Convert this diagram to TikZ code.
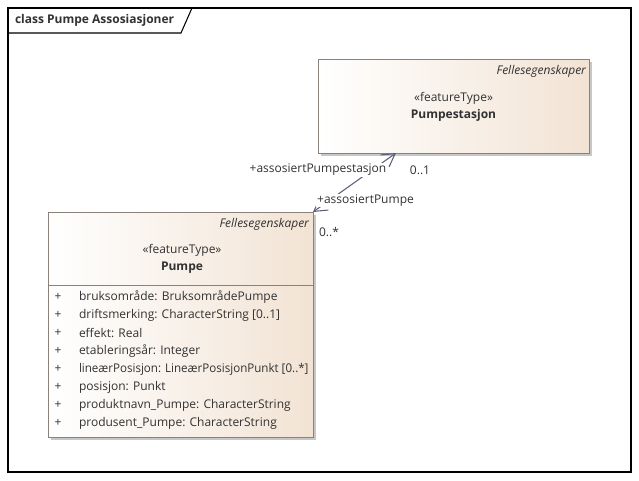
\documentclass[tikz,border=0pt]{standalone}
\usepackage{fontspec}
\setmainfont{Open Sans}
\usetikzlibrary{arrows.meta,shadows,calc}
\definecolor{boxline}{RGB}{140,128,122}
\definecolor{boxtint}{RGB}{242,227,212}
\definecolor{ink}{RGB}{50,50,50}
\definecolor{assoc}{RGB}{92,96,122}
\begin{document}
\fontsize{9}{11}\selectfont
\begin{tikzpicture}[x=0.75pt,y=-0.75pt,
  every node/.style={text=ink, inner sep=0pt, outer sep=0pt},
  classbox/.style={draw=boxline, line width=0.75pt, left color=white, right color=boxtint,
    anchor=north west,
    drop shadow={shadow xshift=2.6pt, shadow yshift=-2.6pt, fill=black!22, opacity=1}},
  rolelabel/.style={fill=white, inner sep=0.6pt},
  barb/.tip={Straight Barb[length=9.5pt,width=11pt]},
  assocline/.style={draw=assoc, line width=0.8pt, barb-barb}]

  % page background and size
  \fill[white] (0,0) rectangle (639,480);
  \useasboundingbox (0,0) rectangle (639,480);

  % diagram frame with its name tab
  \draw[line width=1.1pt] (8,8) rectangle (631,472);
  \draw[line width=0.8pt] (8,33) -- (181,33) -- (192,8);
  \node[anchor=west, font=\bfseries] (title) at (15,20.5) {class Pumpe Assosiasjoner};

  % class Pumpestasjon
  \node[classbox, minimum width=203.25pt, minimum height=70.5pt] (stasjon) at (318,59) {};
  \node[anchor=east, font=\itshape] (stasjon-pkg) at (586,71) {Fellesegenskaper};
  \node (stasjon-st) at (453.5,98) {«featureType»};
  \node[font=\bfseries] (stasjon-name) at (453.5,115) {Pumpestasjon};

  % class Pumpe
  \node[classbox, minimum width=198.75pt, minimum height=168.75pt] (pumpe) at (48,212) {};
  \node[anchor=east, font=\itshape] (pumpe-pkg) at (309,224) {Fellesegenskaper};
  \node (pumpe-st) at (182,250) {«featureType»};
  \node[font=\bfseries] (pumpe-name) at (182,268) {Pumpe};
  \draw[boxline, line width=0.75pt] (pumpe.west |- 0,285) -- (pumpe.east |- 0,285);

  % attributes; the long one is narrowed a little to stay inside the box
  \foreach \attr [count=\i] in {
      bruksområde: BruksområdePumpe,
      driftsmerking: CharacterString [0..1],
      effekt: Real,
      etableringsår: Integer,
      {\scalebox{0.965}[1]{lineærPosisjon: LineærPosisjonPunkt [0..*]}},
      posisjon: Punkt,
      produktnavn\_Pumpe: CharacterString,
      produsent\_Pumpe: CharacterString} {
    \node (plus-\i) at (58,279+18*\i) {+};
    \node[anchor=west] (attr-\i) at (79,279+18*\i) {\attr};
  }

  % association between the two classes
  \coordinate (stasjon-end) at ($(stasjon.south west)+(78,0)$);
  \draw[assocline] (pumpe.north east) -- (stasjon-end);
  \node[rolelabel] (role-stasjon) at (318,170) {+assosiertPumpestasjon};
  \node (mult-stasjon) at (420,170) {0..1};
  \node[rolelabel] (role-pumpe) at (365.5,200.5) {+assosiertPumpe};
  \node (mult-pumpe) at (329,232) {0..*};
\end{tikzpicture}
\end{document}
